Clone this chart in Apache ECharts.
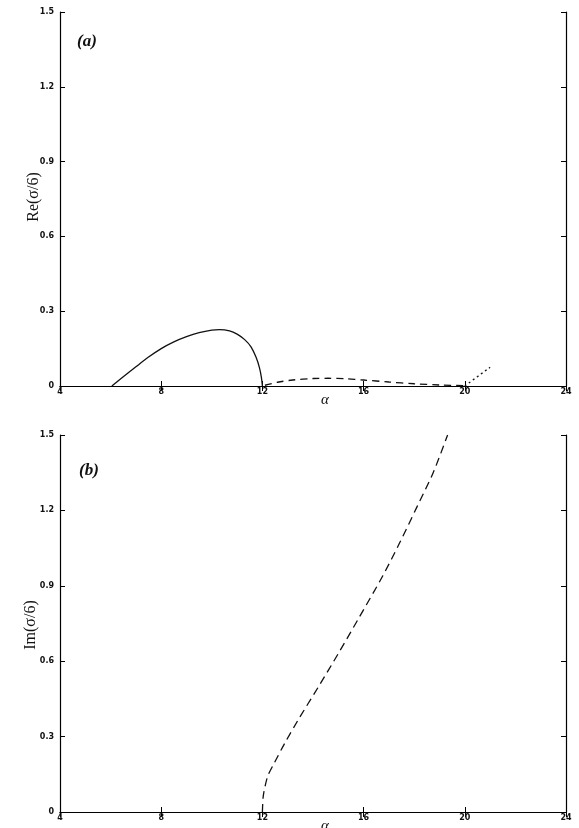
<!DOCTYPE html>
<html>
<head>
<meta charset="utf-8">
<script src="https://cdn.jsdelivr.net/npm/echarts@6/dist/echarts.min.js"></script>
<style>
  html, body { margin: 0; padding: 0; background: #fff; }
  #main { width: 579px; height: 828px; }
</style>
</head>
<body>
<div id="main"></div>
<script>
// x ticks / y ticks
const xTicks = [4, 8, 12, 16, 20, 24]
const yTicks = [0, 0.3, 0.6, 0.9, 1.2, 1.5]

// (a) Re(sigma/6): solid branch
const reSolid = [
  [6.05, 0], [6.5, 0.037], [7.0, 0.077], [7.5, 0.116], [8.0, 0.15], [8.5, 0.177],
  [9.0, 0.198], [9.5, 0.214], [10.0, 0.224], [10.3, 0.226], [10.7, 0.221],
  [11.0, 0.208], [11.3, 0.186], [11.55, 0.157], [11.75, 0.115], [11.88, 0.075],
  [11.96, 0.035], [12.0, 0]
]
// (a) dashed branch
const reDashed = [
  [12.1, 0.003], [12.6, 0.015], [13.2, 0.024], [14.0, 0.03], [14.6, 0.031],
  [15.3, 0.029], [16.0, 0.024], [17.0, 0.016], [18.0, 0.009], [19.0, 0.004], [20.0, 0.001]
]
// (a) dotted branch
const reDotted = [[20.0, 0.0], [21.0, 0.075]]

// (b) Im(sigma/6): dashed branch
const imDashed = [
  [12.0, 0.0], [12.03, 0.06], [12.1, 0.1], [12.22, 0.145], [12.47, 0.195], [12.88, 0.273],
  [13.41, 0.366], [14.22, 0.499], [15.02, 0.634], [15.8, 0.77], [16.76, 0.94],
  [17.43, 1.072], [18.1, 1.212], [18.75, 1.35], [19.32, 1.5]
]

const tickFont = { fontSize: 8, fontWeight: 'bold', color: '#111', fontFamily: 'DejaVu Sans' }
const axisLine = { lineStyle: { color: '#000', width: 1.2 } }

function xAxes (gridIndex) {
  return [{
    type: 'value', gridIndex: gridIndex, min: 4, max: 24, interval: 4,
    axisLine: axisLine, splitLine: { show: false },
    axisTick: { inside: true, length: 5, lineStyle: { color: '#000' } },
    axisLabel: Object.assign({ margin: 2 }, tickFont)
  }, {
    type: 'value', gridIndex: gridIndex, position: 'top', min: 4, max: 24, interval: 4,
    axisLine: axisLine, splitLine: { show: false },
    axisTick: { inside: true, length: 5, lineStyle: { color: '#000' } },
    axisLabel: { show: false }
  }]
}

function yAxes (gridIndex) {
  return [{
    type: 'value', gridIndex: gridIndex, min: 0, max: 1.5, interval: 0.3,
    axisLine: axisLine, splitLine: { show: false },
    axisTick: { inside: true, length: 5, lineStyle: { color: '#000' } },
    axisLabel: Object.assign({ margin: 6, formatter: v => (v === 0 ? '0' : v.toFixed(1)) }, tickFont)
  }, {
    type: 'value', gridIndex: gridIndex, position: 'right', min: 0, max: 1.5, interval: 0.3,
    axisLine: axisLine, splitLine: { show: false },
    axisTick: { inside: true, length: 5, lineStyle: { color: '#000' } },
    axisLabel: { show: false }
  }]
}

function line (data, xi, yi, type) {
  return {
    type: 'line', data: data, xAxisIndex: xi, yAxisIndex: yi,
    smooth: 0.3, symbol: 'none', silent: true,
    lineStyle: { color: '#111', width: 1.3, type: type }
  }
}

const serif = 'Liberation Serif'

let option = {
  backgroundColor: '#fff',
  animation: false,
  grid: [
    { left: 60, right: 13, top: 12, height: 374 },
    { left: 60, right: 13, top: 435, height: 377 }
  ],
  xAxis: xAxes(0).concat(xAxes(1)),
  yAxis: yAxes(0).concat(yAxes(1)),
  graphic: [
    { type: 'text', left: 77, top: 33, style: { text: '(a)', font: 'italic bold 17px ' + serif, fill: '#111' } },
    { type: 'text', left: 79, top: 462, style: { text: '(b)', font: 'italic bold 17px ' + serif, fill: '#111' } },
    { type: 'text', left: 321, top: 393, style: { text: 'α', font: 'italic 15px ' + serif, fill: '#111' } },
    { type: 'text', left: 321, top: 819, style: { text: 'α', font: 'italic 15px ' + serif, fill: '#111' } },
    { type: 'text', x: 34, y: 197, rotation: Math.PI / 2,
      style: { text: 'Re(σ/6)', font: '16px ' + serif, fill: '#111', align: 'center', verticalAlign: 'middle' } },
    { type: 'text', x: 31, y: 625, rotation: Math.PI / 2,
      style: { text: 'Im(σ/6)', font: '16px ' + serif, fill: '#111', align: 'center', verticalAlign: 'middle' } }
  ],
  series: [
    line(reSolid, 0, 0, 'solid'),
    line(reDashed, 0, 0, [7, 5]),
    line(reDotted, 0, 0, [2, 3]),
    line(imDashed, 2, 2, [8, 5])
  ]
}

let myChart = echarts.init(document.getElementById('main'))
myChart.setOption(option)
</script>
</body>
</html>
